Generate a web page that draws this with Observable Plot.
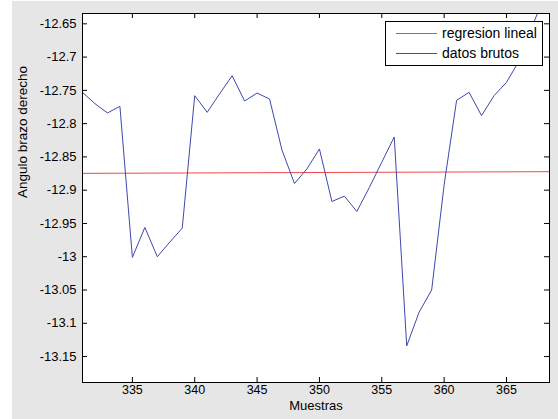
<!DOCTYPE html>
<html><head><meta charset="utf-8">
<script src="https://cdn.jsdelivr.net/npm/d3@7"></script>
<script src="https://cdn.jsdelivr.net/npm/@observablehq/plot@0.6"></script>
<style>
html,body{margin:0;padding:0;background:#fff;}
#wrap{position:relative;width:558px;height:419px;overflow:hidden;font-family:"Liberation Sans",Arial,sans-serif;}
#bg{position:absolute;left:12px;top:1px;right:0;bottom:0;background:#e6e6e6;}
#chart{position:absolute;left:0;top:0;}
#legend{position:absolute;left:385px;top:21px;}
</style></head>
<body><div id="wrap"><div id="bg"></div><div id="chart"></div><div id="legend"></div></div>
<script>
// Sample numbers (Muestras)
const muestras = [331,332,333,334,335,336,337,338,339,340,341,342,343,344,345,346,347,348,349,350,351,352,353,354,355,356,357,358,359,360,361,362,363,364,365,366,367,368];
// Raw data (datos brutos)
const datosBrutos = [-12.753,-12.770,-12.784,-12.774,-13.001,-12.956,-13.000,-12.978,-12.957,-12.758,-12.783,-12.755,-12.728,-12.766,-12.754,-12.763,-12.840,-12.890,-12.868,-12.838,-12.917,-12.909,-12.932,-12.896,-12.858,-12.820,-13.134,-13.083,-13.050,-12.892,-12.765,-12.753,-12.788,-12.758,-12.738,-12.706,-12.657,-12.610];
// Linear regression endpoints
const regX = [331, 368.45];
const regY = [-12.8747, -12.8722];
// Axes
const xDomain = [331, 368.45];
const yDomain = [-13.189, -12.6345];
const xTicks = [335,340,345,350,355,360,365];
const xTickLabels = ["335","340","345","350","355","360","365"];
const yTicks = [-12.65,-12.7,-12.75,-12.8,-12.85,-12.9,-12.95,-13,-13.05,-13.1,-13.15];
const yTickLabels = ["-12.65","-12.7","-12.75","-12.8","-12.85","-12.9","-12.95","-13","-13.05","-13.1","-13.15"];
const xLabel = "Muestras";
const yLabel = "Angulo brazo derecho";
const seriesNames = ["regresion lineal","datos brutos"];
const seriesColors = ["#f04848","#3f48b0"];

const W = 558, H = 419, mL = 82, mT = 13, mR = 9, mB = 37;
const plotW = W - mL - mR, plotH = H - mT - mB;

const raw = muestras.map((x, i) => ({x, y: datosBrutos[i]}));
const reg = regX.map((x, i) => ({x, y: regY[i]}));

const chart = Plot.plot({
  width: W, height: H,
  marginLeft: mL, marginTop: mT, marginRight: mR, marginBottom: mB,
  style: {background: "transparent", fontFamily: "'Liberation Sans', Arial, sans-serif", fontSize: "13px", color: "#000"},
  x: {domain: xDomain},
  y: {domain: yDomain},
  marks: [
    Plot.frame({fill: "white", stroke: "none"}),
    Plot.line(reg, {x: "x", y: "y", stroke: seriesColors[0], strokeWidth: 1, clip: true}),
    Plot.line(raw, {x: "x", y: "y", stroke: seriesColors[1], strokeWidth: 1, clip: true}),
    Plot.tickX(xTicks, {x: d => d, insetTop: plotH - 5, stroke: "#000"}),
    Plot.tickX(xTicks, {x: d => d, insetBottom: plotH - 5, stroke: "#000"}),
    Plot.tickY(yTicks, {y: d => d, insetRight: plotW - 5, stroke: "#000"}),
    Plot.tickY(yTicks, {y: d => d, insetLeft: plotW - 5, stroke: "#000"}),
    Plot.frame({stroke: "#000", strokeWidth: 1}),
    Plot.axisX(xTicks, {tickSize: 0, tickPadding: 3, tickFormat: d => xTickLabels[xTicks.indexOf(d)], label: null, fontSize: 12.5}),
    Plot.axisY(yTicks, {tickSize: 0, tickPadding: 6, tickFormat: d => yTickLabels[yTicks.indexOf(d)], label: null, fontSize: 13}),
    Plot.text([xLabel], {text: d => d, frameAnchor: "bottom", dy: 27.5, fontSize: 13, fill: "#000"}),
    Plot.text([yLabel], {text: d => d, frameAnchor: "left", dx: -60, rotate: -90, fontSize: 13.5, fill: "#000"})
  ]
});
document.getElementById("chart").appendChild(chart);

// Legend box (inside the plot area, top right)
const lw = 158, lh = 45;
const leg = d3.select("#legend").append("svg").attr("width", lw).attr("height", lh)
  .style("font-family", "'Liberation Sans', Arial, sans-serif");
leg.append("rect").attr("x", 0.5).attr("y", 0.5).attr("width", lw - 1).attr("height", lh - 1)
  .attr("fill", "white").attr("stroke", "#000");
seriesNames.forEach((name, i) => {
  const cy = 12.5 + i * 20;
  leg.append("line").attr("x1", 11).attr("x2", 52).attr("y1", cy).attr("y2", cy)
    .attr("stroke", seriesColors[i]).attr("stroke-width", 1);
  leg.append("text").attr("x", 57).attr("y", cy).attr("dy", "0.35em")
    .attr("font-size", 14).attr("fill", "#000").text(name);
});
</script>
</body></html>
